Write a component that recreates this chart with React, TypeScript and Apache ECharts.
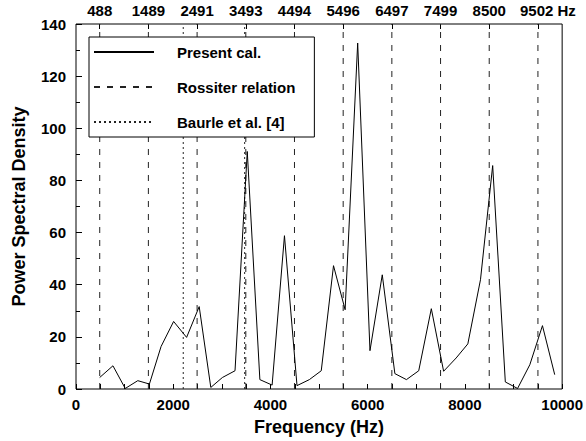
import React, { useEffect, useRef } from "react";
import * as echarts from "echarts";

// Present calculation: frequency (Hz) and power spectral density
const freqs = [
  487, 760, 1013, 1271, 1510, 1750, 2008, 2275, 2534, 2773, 3011, 3271, 3523,
  3782, 4034, 4288, 4546, 4800, 5045, 5297, 5536, 5794, 6047, 6300, 6559, 6797,
  7050, 7309, 7562, 7820, 8060, 8320, 8571, 8831, 9083, 9335, 9595, 9847,
];
const psd = [
  4.4, 8.9, 0.2, 3.2, 1.9, 16.3, 25.9, 19.8, 31.6, 0.6, 4.4, 7.0, 91.1, 3.6,
  1.5, 58.8, 1.3, 3.6, 7.0, 47.3, 30.4, 132.7, 14.7, 43.8, 5.9, 3.6, 7.0, 30.8,
  6.8, 11.9, 17.3, 41.9, 85.7, 2.7, 0.2, 9.3, 24.3, 5.5,
];
// Rossiter relation mode frequencies (top axis ticks)
const rossiterFreqs = [488, 1489, 2491, 3493, 4494, 5496, 6497, 7499, 8500, 9502];
// Baurle et al. [4] frequencies
const baurleFreqs = [2206, 3469];

const X_MIN = 0;
const X_MAX = 10000;
const Y_MIN = 0;
const Y_MAX = 140;

const FONT = "'Liberation Sans', Arial, Helvetica, sans-serif";

function verticalLines(fs: number[]) {
  const out: any[] = [];
  fs.forEach((f) => {
    out.push([f, Y_MIN], [f, Y_MAX], [f, null]);
  });
  return out;
}

export default function App() {
  const ref = useRef<HTMLDivElement>(null);
  useEffect(() => {
    if (!ref.current) return;
    const chart = echarts.init(ref.current, null, { renderer: "svg" });
    const option: any = {
      animation: false,
      backgroundColor: "#fff",
      grid: {
        left: 76,
        right: 21,
        top: 24,
        bottom: 52,
        show: true,
        borderColor: "#000",
        borderWidth: 1,
        backgroundColor: "transparent",
      },
      legend: {
        orient: "vertical",
        left: 89,
        top: 37,
        z: 20,
        data: ["Present cal.", "Rossiter relation", "Baurle et al. [4]"],
        itemWidth: 60,
        itemHeight: 16,
        itemGap: 19,
        padding: [7, 19, 7, 4],
        backgroundColor: "#fff",
        borderColor: "#000",
        borderWidth: 1,
        borderRadius: 0,
        selectedMode: false,
        itemStyle: { opacity: 0 },
        textStyle: {
          fontFamily: FONT,
          fontWeight: "bold",
          fontSize: 15,
          color: "#000",
          lineHeight: 16,
          padding: [0, 0, 0, 18],
        },
      },
      xAxis: [
        {
          type: "value",
          min: X_MIN,
          max: X_MAX,
          interval: 2000,
          position: "bottom",
          name: "Frequency (Hz)",
          nameLocation: "middle",
          nameGap: 29,
          nameTextStyle: {
            fontFamily: FONT,
            fontWeight: "bold",
            fontSize: 18,
            color: "#000",
          },
          axisLine: { show: false },
          axisTick: {
            show: true,
            inside: true,
            length: 5,
            lineStyle: { color: "#000", width: 1 },
          },
          minorTick: {
            show: true,
            splitNumber: 4,
            length: 5,
            lineStyle: { color: "#000", width: 1 },
          },
          splitLine: { show: false },
          axisLabel: {
            margin: 8,
            fontFamily: FONT,
            fontWeight: "bold",
            fontSize: 15,
            color: "#000",
            formatter: (v: number) => String(v),
          },
        },
        {
          type: "value",
          min: X_MIN,
          max: X_MAX,
          position: "top",
          axisLine: { show: false },
          splitLine: { show: false },
          axisTick: {
            show: true,
            inside: true,
            length: 5,
            customValues: rossiterFreqs,
            lineStyle: { color: "#000", width: 1 },
          },
          axisLabel: {
            show: true,
            margin: 6,
            customValues: rossiterFreqs,
            fontFamily: FONT,
            fontWeight: "bold",
            fontSize: 15,
            color: "#000",
            formatter: (v: number) =>
              v === rossiterFreqs[rossiterFreqs.length - 1]
                ? "{p|}" + v + " Hz"
                : String(v),
            rich: {
              p: { width: 20 },
            },
          },
        },
      ],
      yAxis: {
        type: "value",
        min: Y_MIN,
        max: Y_MAX,
        interval: 20,
        name: "Power Spectral Density",
        nameLocation: "middle",
        nameGap: 48,
        nameTextStyle: {
          fontFamily: FONT,
          fontWeight: "bold",
          fontSize: 18,
          color: "#000",
        },
        axisLine: { show: false },
        axisTick: {
          show: true,
          inside: true,
          length: 6,
          lineStyle: { color: "#000", width: 1 },
        },
        minorTick: {
          show: true,
          splitNumber: 2,
          length: 4,
          lineStyle: { color: "#000", width: 1 },
        },
        splitLine: { show: false },
        axisLabel: {
          margin: 10,
          fontFamily: FONT,
          fontWeight: "bold",
          fontSize: 15,
          color: "#000",
        },
      },
      series: [
        {
          name: "Rossiter relation",
          type: "line",
          xAxisIndex: 0,
          data: verticalLines(rossiterFreqs),
          symbol: "none",
          connectNulls: false,
          silent: true,
          z: 1,
          lineStyle: { color: "#222", width: 1, type: [6, 7] },
          itemStyle: { color: "#222" },
        },
        {
          name: "Baurle et al. [4]",
          type: "line",
          xAxisIndex: 0,
          data: verticalLines(baurleFreqs),
          symbol: "none",
          connectNulls: false,
          silent: true,
          z: 1,
          lineStyle: { color: "#222", width: 1, type: [2, 3] },
          itemStyle: { color: "#222" },
        },
        {
          name: "Present cal.",
          type: "line",
          xAxisIndex: 0,
          data: freqs.map((f, i) => [f, psd[i]]),
          symbol: "none",
          z: 3,
          lineStyle: { color: "#000", width: 1 },
          itemStyle: { color: "#000" },
        },
      ],
    };
    chart.setOption(option);
    return () => chart.dispose();
  }, []);
  return (
    <div
      ref={ref}
      style={{ position: "fixed", left: 0, top: 0, width: 586, height: 441, background: "#fff" }}
    />
  );
}
